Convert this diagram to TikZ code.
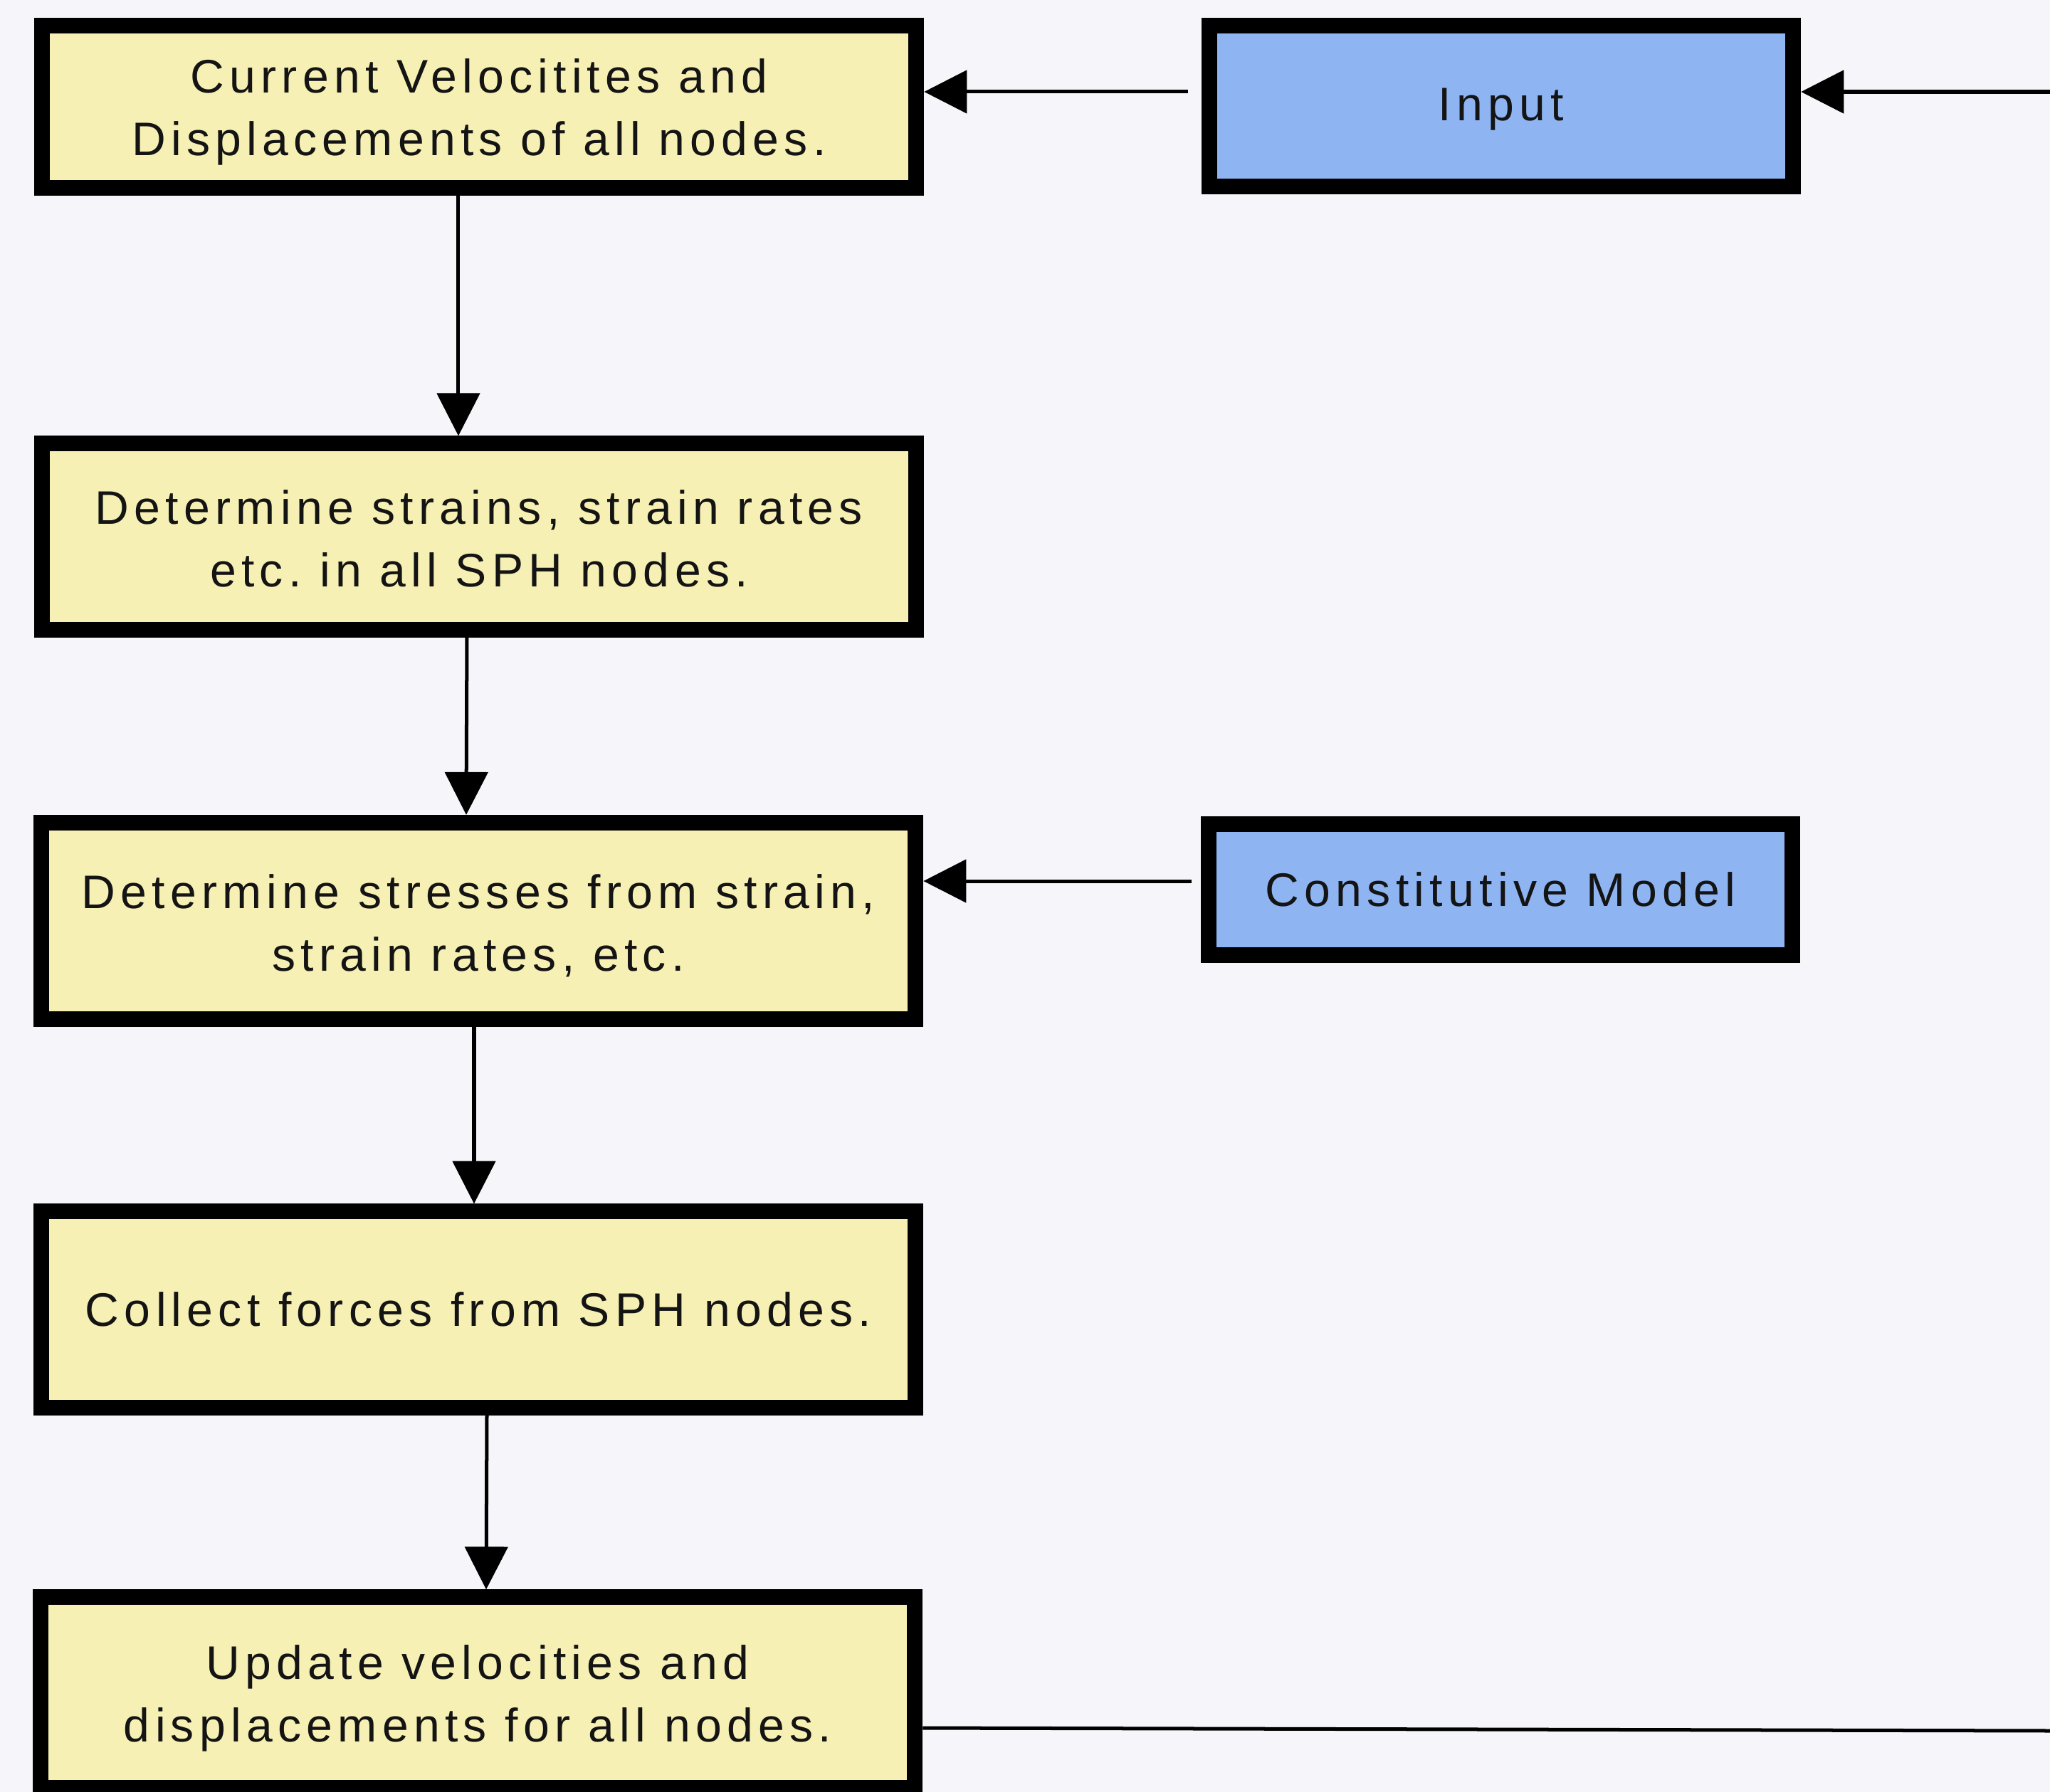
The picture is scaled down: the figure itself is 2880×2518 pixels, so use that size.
\documentclass[tikz,border=0pt]{standalone}
\usepackage{fontspec}
\setmainfont{Liberation Sans}[LetterSpace=11]
\usetikzlibrary{arrows.meta,calc}
\definecolor{bgcol}{HTML}{F5F5FA}
\definecolor{boxyellow}{HTML}{F6F0B4}
\definecolor{boxblue}{HTML}{8FB4F2}
\frenchspacing
\newcommand\lowtxt[2][0.07cm]{\raisebox{-#1}[\height][\depth]{#2}}
\begin{document}
\begin{tikzpicture}[x=0.01cm,y=-0.01cm,
  flowbox/.style={draw=black, line width=0.22cm, fill=boxyellow, inner sep=0pt,
    minimum width=12.28cm, align=center, font=\fontsize{18.8}{25}\selectfont, text=black!92},
  inbox/.style={flowbox, fill=boxblue, minimum width=8.2cm},
  conn/.style={line width=0.05cm, -{Triangle[length=0.6cm,width=0.6cm]}},
  plainline/.style={line width=0.05cm}]
\fill[bgcol] (0,0) rectangle (2880,2518);
\useasboundingbox (0,0) rectangle (2880,2518);

\node[flowbox, minimum height=2.28cm] (b1) at (673,150) {\lowtxt{Current Velocitites and}\\\lowtxt{Displacements of all nodes.}};
\node[flowbox, minimum height=2.61cm] (b2) at (673,754) {\lowtxt[0.03cm]{Determine strains, strain rates}\\\lowtxt[0.03cm]{etc. in all SPH nodes.}};
\node[flowbox, minimum height=2.76cm] (b3) at (672,1294) {\lowtxt{Determine stresses from strain,}\\\lowtxt{strain rates, etc.}};
\node[flowbox, minimum height=2.75cm] (b4) at (672,1840) {Collect forces from SPH nodes.};
\node[flowbox, minimum height=2.67cm] (b5) at (671,2378) {\lowtxt[0.08cm]{Update velocities and}\\\lowtxt[0.08cm]{displacements for all nodes.}};
\node[inbox, minimum height=2.25cm] (inp) at (2109,149) {\lowtxt[0.05cm]{Input}};
\node[inbox, minimum height=1.83cm] (cmod) at (2108,1250) {Constitutive Model};

\coordinate (rin) at (2880,129);
\coordinate (rout) at (2880,2432);

\draw[conn] ([xshift=-0.29cm]b1.south) -- ([xshift=-0.29cm]b2.north);
\draw[conn] ([xshift=-0.17cm]b2.south) -- ([xshift=-0.17cm]b3.north);
\draw[conn] ([xshift=-0.06cm]b3.south) -- ([xshift=-0.06cm]b4.north);
\draw[conn] ([xshift=0.12cm]b4.south) -- ([xshift=0.12cm]b5.north);

\draw[conn, shorten <=0.19cm] ([yshift=0.2cm]inp.west) -- ([yshift=0.2cm]inp.west -| b1.east);
\draw[conn] (rin) -- (rin -| inp.east);
\draw[conn, shorten <=0.13cm] ([yshift=0.12cm]cmod.west) -- ([yshift=0.12cm]cmod.west -| b3.east);
\draw[plainline] ([yshift=-0.5cm]b5.east) -- (rout);
\end{tikzpicture}
\end{document}
